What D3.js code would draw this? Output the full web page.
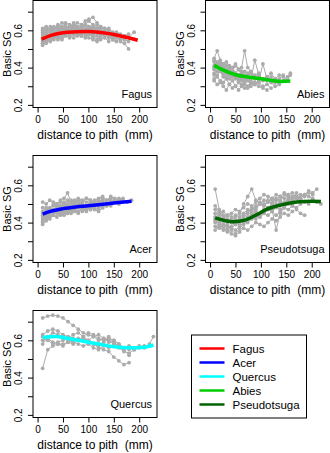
<!DOCTYPE html>
<html>
<head>
<meta charset="utf-8">
<script src="https://cdn.jsdelivr.net/npm/d3@7"></script>
<style>
  body { margin: 0; background: #fff; }
  svg { display: block; font-family: "Liberation Sans", Arial, sans-serif; }
</style>
</head>
<body>
<svg id="chart" width="330" height="453"></svg>
<script>
// distances (mm) at which each core was measured, per species
const fagusDist = [10,17,25,32,40,48,55,63,71,78,86,94,101,109,117,124,132,140,148,155,163,171,179,190];
const fagusCores = [
  [0.55,0.57,0.58,0.60,0.59,0.61,0.60,0.62,0.61,0.60,0.62,0.63,0.61,0.60,0.59,0.60,0.58,0.59,0.57,0.56,0.55,0.57,0.56,0.59],
  [0.53,0.55,0.54,0.56,0.57,0.56,0.58,0.57,0.59,0.58,0.60,0.59,0.61,0.60,0.58,0.57,0.59,0.56,0.55,0.57,0.54,0.53,0.50],
  [0.58,0.60,0.62,0.61,0.63,0.62,0.64,0.63,0.62,0.64,0.63,0.65,0.66,0.67,0.64,0.62,0.61,0.60,0.58],
  [0.52,0.54,0.56,0.55,0.57,0.59,0.58,0.57,0.56,0.58,0.57,0.59,0.58,0.56,0.57,0.55,0.56,0.54],
  [0.56,0.58,0.57,0.59,0.61,0.60,0.62,0.61,0.63,0.62,0.61,0.60,0.62,0.61,0.63,0.60,0.59,0.58,0.57,0.59,0.58],
  [0.61,0.62,0.60,0.58,0.60,0.59,0.61,0.60,0.59,0.57,0.58,0.60,0.59,0.58,0.60,0.61,0.59,0.57,0.56,0.58,0.57,0.55],
  [0.54,0.53,0.55,0.57,0.56,0.55,0.57,0.56,0.58,0.60,0.59,0.57,0.56,0.55,0.54,0.56],
  [0.57,0.59,0.61,0.60,0.62,0.64,0.63,0.61,0.60,0.62,0.61,0.63,0.65,0.63,0.61,0.62,0.60,0.61,0.59,0.58],
  [0.55,0.56,0.58,0.57,0.55,0.57,0.59,0.60,0.58,0.59,0.57,0.56,0.58,0.57,0.55,0.57,0.58,0.56,0.55,0.54,0.56,0.55,0.54],
  [0.59,0.58,0.60,0.62,0.61,0.59,0.60,0.58,0.61,0.60,0.62,0.61,0.59,0.58,0.60,0.58,0.57],
  [0.53,0.56,0.55,0.58,0.60,0.61,0.59,0.60,0.62,0.61,0.60,0.58,0.60,0.62,0.60,0.59,0.61,0.60,0.58,0.56,0.55,0.57,0.58],
  [0.60,0.61,0.59,0.61,0.62,0.61,0.60,0.62,0.64,0.62,0.61,0.63,0.62,0.60,0.61,0.59,0.57,0.58,0.56]
];
const fagusFit = [[8,0.553],[25,0.572],[50,0.587],[75,0.592],[100,0.594],[125,0.588],[150,0.578],[175,0.563],[197,0.547]];

const abiesDist = [8,14,20,26,32,38,44,50,56,62,68,74,80,88,96,104,112,120,128,136,144,152,158];
const abiesCores = [
  [0.41,0.43,0.40,0.42,0.39,0.40,0.38,0.41,0.39,0.37,0.38,0.36,0.37,0.35,0.36,0.34,0.35,0.33,0.34,0.32,0.33,0.35,0.37],
  [0.45,0.49,0.44,0.42,0.43,0.41,0.40,0.42,0.39,0.40,0.49,0.40,0.38,0.36,0.37],
  [0.37,0.36,0.38,0.35,0.37,0.34,0.36,0.35,0.33,0.34,0.32,0.34,0.33,0.31,0.32,0.30,0.31,0.29],
  [0.39,0.41,0.38,0.36,0.35,0.37,0.36,0.34,0.35,0.33,0.34,0.35,0.33,0.44,0.36,0.34,0.33,0.35,0.32,0.34,0.36],
  [0.43,0.40,0.41,0.39,0.37,0.38,0.36,0.37,0.35,0.36,0.34,0.33,0.31,0.32,0.30,0.29,0.28],
  [0.34,0.35,0.33,0.32,0.34,0.31,0.33,0.30,0.32,0.31,0.29,0.30,0.32,0.31,0.33,0.42,0.34,0.32,0.30,0.31],
  [0.40,0.38,0.39,0.37,0.38,0.36,0.35,0.36,0.34,0.35,0.33,0.34,0.32],
  [0.36,0.38,0.42,0.40,0.38,0.39,0.37,0.35,0.36,0.38,0.36,0.35,0.37,0.34,0.36,0.33,0.35,0.37,0.34,0.36,0.35,0.33,0.36],
  [0.44,0.42,0.43,0.40,0.41,0.38,0.40,0.37,0.39,0.36,0.35,0.37],
  [0.33,0.31,0.32,0.30,0.28,0.31,0.29,0.30,0.28,0.30,0.31,0.29,0.30,0.32]
];
const abiesFit = [[8,0.412],[25,0.388],[50,0.362],[75,0.350],[100,0.340],[125,0.330],[140,0.326],[158,0.328]];

const acerDist = [10,17,24,31,38,45,52,59,66,73,80,88,96,104,112,120,128,136,144,152,160,168,176,185];
const acerCores = [
  [0.43,0.45,0.47,0.46,0.48,0.47,0.49,0.48,0.50,0.49,0.48,0.50,0.49,0.51,0.50,0.52,0.51,0.50,0.52,0.51,0.53,0.52,0.51,0.52],
  [0.39,0.41,0.43,0.44,0.43,0.45,0.44,0.46,0.45,0.47,0.46,0.48,0.47,0.49,0.48,0.47,0.49,0.50,0.49,0.51],
  [0.51,0.50,0.52,0.51,0.50,0.52,0.53,0.56,0.51,0.52,0.50,0.51,0.53,0.52,0.50,0.51,0.53,0.52,0.54,0.53,0.52],
  [0.42,0.44,0.46,0.45,0.47,0.46,0.48,0.47,0.46,0.48,0.49,0.47,0.48,0.50,0.49,0.51,0.50,0.49,0.51],
  [0.46,0.48,0.47,0.49,0.50,0.49,0.51,0.50,0.52,0.51,0.53,0.52,0.51,0.50,0.52,0.53,0.54,0.52,0.53,0.51,0.52,0.53],
  [0.40,0.42,0.44,0.46,0.45,0.44,0.46,0.45,0.47,0.46,0.45,0.47,0.46,0.48,0.47,0.46,0.48],
  [0.44,0.43,0.45,0.47,0.49,0.48,0.50,0.49,0.48,0.50,0.51,0.50,0.49,0.51,0.50,0.52,0.51,0.49,0.50,0.51,0.50,0.52,0.51],
  [0.48,0.46,0.48,0.50,0.49,0.51,0.50,0.52,0.51,0.50,0.52,0.51,0.53,0.52,0.51,0.50,0.52,0.51,0.50,0.52],
  [0.45,0.47,0.46,0.44,0.46,0.48,0.47,0.45,0.47,0.49,0.48,0.46,0.48,0.47,0.49,0.48],
  [0.41,0.43,0.42,0.44,0.46,0.47,0.45,0.47,0.49,0.48,0.50,0.49,0.48,0.47,0.49,0.50,0.48,0.50]
];
const acerFit = [[10,0.445],[25,0.460],[50,0.475],[75,0.484],[100,0.490],[125,0.497],[150,0.505],[185,0.515]];

const pseudoDist = [10,18,26,34,42,50,58,66,74,82,90,98,106,114,122,130,138,146,154,162,170,178,186,194,202,210,218];
const pseudoCores = [
  [0.58,0.47,0.44,0.42,0.41,0.43,0.45,0.50,0.54,0.58,0.52,0.50,0.49,0.52,0.50,0.53,0.52,0.55,0.54,0.53,0.56,0.54,0.55,0.57,0.56,0.58],
  [0.43,0.41,0.39,0.38,0.37,0.36,0.38,0.40,0.42,0.44,0.46,0.45,0.47,0.48,0.50,0.49,0.51,0.50,0.52,0.51,0.53,0.52],
  [0.49,0.46,0.43,0.41,0.40,0.39,0.41,0.43,0.45,0.47,0.49,0.51,0.50,0.48,0.47,0.36,0.45,0.48,0.50,0.49,0.47,0.45,0.44],
  [0.40,0.38,0.36,0.35,0.36,0.34,0.37,0.39,0.41,0.43,0.42,0.44,0.46,0.48,0.47,0.49,0.51,0.50,0.52,0.51,0.53,0.52,0.51,0.50,0.52,0.51,0.50],
  [0.45,0.43,0.42,0.44,0.43,0.41,0.42,0.44,0.46,0.48,0.47,0.50,0.52,0.51,0.53,0.55,0.54,0.56,0.55,0.54,0.53,0.55,0.54],
  [0.38,0.37,0.39,0.37,0.38,0.40,0.39,0.41,0.40,0.42,0.44,0.43,0.45,0.44,0.46,0.48,0.47,0.49,0.51,0.50],
  [0.42,0.44,0.41,0.40,0.42,0.44,0.43,0.45,0.47,0.46,0.48,0.50,0.49,0.51,0.53,0.52,0.54,0.53,0.55,0.56,0.54,0.53,0.55,0.54,0.53],
  [0.36,0.39,0.37,0.36,0.34,0.33,0.35,0.37,0.36,0.38,0.40,0.39,0.38,0.40,0.42,0.41,0.43,0.45,0.44,0.46],
  [0.47,0.45,0.46,0.44,0.45,0.47,0.46,0.48,0.50,0.49,0.51,0.53,0.55,0.54,0.52,0.50,0.49,0.51,0.53,0.52,0.54,0.53,0.55,0.56,0.55],
  [0.41,0.40,0.38,0.39,0.37,0.39,0.41,0.40,0.43,0.45,0.44,0.43,0.45,0.47,0.46,0.44,0.46,0.48,0.47,0.49,0.48,0.50]
];
const pseudoFit = [[10,0.425],[30,0.410],[45,0.405],[70,0.415],[90,0.440],[110,0.470],[140,0.495],[170,0.510],[200,0.515],[218,0.513]];

const quercusDist = [10,20,30,40,50,60,70,80,90,100,110,120,130,140,150,160,170,180,190,200,210,220,228];
const quercusCores = [
  [0.72,0.73,0.735,0.73,0.72,0.70,0.68,0.66,0.64,0.63,0.62,0.60,0.61,0.59,0.60,0.58],
  [0.45,0.55,0.57,0.58,0.58,0.59,0.60,0.61,0.60,0.59,0.58,0.56,0.55,0.54,0.51,0.49,0.47,0.48],
  [0.63,0.65,0.66,0.65,0.63,0.62,0.61,0.60,0.62,0.64,0.63,0.61,0.60,0.62,0.59,0.57,0.55,0.52],
  [0.60,0.61,0.59,0.58,0.57,0.59,0.58,0.60,0.61,0.60,0.62,0.63,0.61,0.60,0.58,0.57,0.56,0.55,0.56,0.57,0.56,0.58,0.62],
  [0.62,0.60,0.58,0.59,0.60,0.61,0.63,0.64,0.62,0.60,0.58,0.57,0.59,0.61,0.60,0.58,0.56,0.57,0.55],
  [0.58,0.62,0.64,0.63,0.62,0.60,0.59,0.58,0.57,0.58,0.56,0.55,0.57,0.56,0.58,0.56,0.54,0.53,0.55,0.56,0.57]
];
const quercusFit = [[10,0.615],[35,0.620],[60,0.610],[90,0.595],[120,0.580],[150,0.566],[180,0.560],[210,0.563],[228,0.575]];

const xTicks = [0, 50, 100, 150, 200];
const yTicks = [0.2, 0.3, 0.4, 0.5, 0.6, 0.7];
const yLabelTicks = [0.2, 0.4, 0.6];

const legendNames = ["Fagus", "Acer", "Quercus", "Abies", "Pseudotsuga"];
const legendColors = ["#ff0000", "#0000ff", "#00ffff", "#00cd00", "#006400"];

const svg = d3.select("#chart");
const pw = 124, ph = 107;
const x = d3.scaleLinear().domain([-9, 235]).range([0, pw]);
const y = d3.scaleLinear().domain([0.186, 0.760]).range([ph, 0]);

const panels = [
  { name: "Fagus", dist: fagusDist, cores: fagusCores, fit: fagusFit, color: "#ff0000", left: 33, top: 0.5 },
  { name: "Abies", dist: abiesDist, cores: abiesCores, fit: abiesFit, color: "#00cd00", left: 205.5, top: 0.5 },
  { name: "Acer", dist: acerDist, cores: acerCores, fit: acerFit, color: "#0000ff", left: 33, top: 155.5 },
  { name: "Pseudotsuga", dist: pseudoDist, cores: pseudoCores, fit: pseudoFit, color: "#006400", left: 205.5, top: 155.5 },
  { name: "Quercus", dist: quercusDist, cores: quercusCores, fit: quercusFit, color: "#00ffff", left: 33, top: 310.5 }
];

panels.forEach(p => {
  const g = svg.append("g").attr("transform", `translate(${p.left},${p.top})`);

  // gray core profiles
  const coreLine = d3.line().x(d => x(d[0])).y(d => y(d[1]));
  p.cores.forEach(core => {
    const pts = core.map((v, i) => [p.dist[i], v]);
    g.append("path").datum(pts)
      .attr("fill", "none").attr("stroke", "#ababab").attr("stroke-width", 1)
      .attr("d", coreLine);
    g.selectAll(null).data(pts).enter().append("circle")
      .attr("cx", d => x(d[0])).attr("cy", d => y(d[1])).attr("r", 1.9)
      .attr("fill", "#ababab");
  });

  // fitted trend
  g.append("path").datum(p.fit)
    .attr("fill", "none").attr("stroke", p.color).attr("stroke-width", 3.5)
    .attr("d", d3.line().curve(d3.curveMonotoneX).x(d => x(d[0])).y(d => y(d[1])));

  // box
  g.append("rect").attr("width", pw).attr("height", ph)
    .attr("fill", "none").attr("stroke", "#000").attr("stroke-width", 1);

  // axes
  const xa = g.append("g").attr("transform", `translate(0,${ph})`)
    .call(d3.axisBottom(x).tickValues(xTicks).tickSize(5).tickPadding(3));
  xa.select(".domain").remove();
  xa.selectAll("text").attr("font-size", 10).attr("font-family", "Liberation Sans, Arial, sans-serif");

  const ya = g.append("g")
    .call(d3.axisLeft(y).tickValues(yTicks).tickSize(5)
      .tickFormat(d => yLabelTicks.some(t => Math.abs(t - d) < 1e-9) ? d3.format(".1f")(d) : ""));
  ya.select(".domain").remove();
  ya.selectAll("text")
    .attr("font-size", 10).attr("font-family", "Liberation Sans, Arial, sans-serif")
    .attr("x", null).attr("dy", null)
    .attr("text-anchor", "middle")
    .attr("transform", "translate(-11,0) rotate(-90)");

  g.append("text").attr("x", pw / 2).attr("y", ph + 31)
    .attr("text-anchor", "middle").attr("font-size", 12)
    .style("white-space", "pre")
    .text("distance to pith  (mm)");
  g.append("text")
    .attr("transform", `translate(-22,${ph / 2}) rotate(-90)`)
    .attr("text-anchor", "middle").attr("font-size", 11)
    .text("Basic SG");

  g.append("text").attr("x", pw - 5).attr("y", ph - 10)
    .attr("text-anchor", "end").attr("font-size", 11)
    .text(p.name);
});

// legend
const lg = svg.append("g").attr("transform", "translate(191.5,335)");
lg.append("rect").attr("width", 115).attr("height", 83)
  .attr("fill", "#fff").attr("stroke", "#000").attr("stroke-width", 1);
const rows = lg.selectAll(".row").data(legendNames).enter().append("g")
  .attr("transform", (d, i) => `translate(0,${13.5 + i * 14})`);
rows.append("line").attr("x1", 8).attr("x2", 33).attr("y1", 0).attr("y2", 0)
  .attr("stroke", (d, i) => legendColors[i]).attr("stroke-width", 2.5);
rows.append("text").attr("x", 41).attr("y", 4).attr("font-size", 11.5).text(d => d);
</script>
</body>
</html>
